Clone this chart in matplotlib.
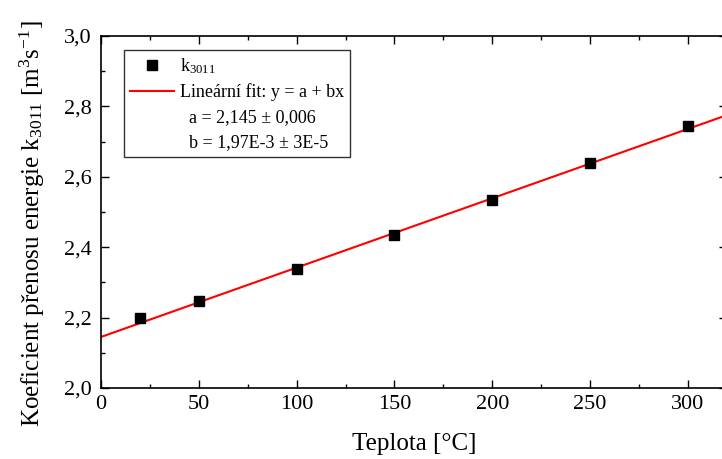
import matplotlib
matplotlib.use("Agg")
import matplotlib.pyplot as plt
from matplotlib.lines import Line2D
from matplotlib.ticker import MultipleLocator
import numpy as np

# measured points
temperature = [20, 50, 100, 150, 200, 250, 300]
k3011 = [2.198, 2.247, 2.337, 2.434, 2.534, 2.638, 2.745]

# linear fit parameters y = a + b x
fit_a = 2.145
fit_b = 1.97e-3
fit_x = [0, 320]

plt.rcParams["font.family"] = ["Liberation Serif", "DejaVu Serif"]
plt.rcParams["mathtext.fontset"] = "custom"
plt.rcParams["mathtext.rm"] = "Liberation Serif"
plt.rcParams["mathtext.it"] = "Liberation Serif"

fig = plt.figure(figsize=(7.22, 4.59), dpi=100)
ax = fig.add_axes([101 / 722, 71 / 459, 626 / 722, 352 / 459])

fx = np.array(fit_x, dtype=float)
ax.plot(fx, fit_a + fit_b * fx, color="red", linewidth=1.5, zorder=2)
ax.plot(temperature, k3011, linestyle="none", marker="s", markersize=7.5,
        color="black", zorder=3)

ax.set_xlim(0, 320)
ax.set_ylim(2.0, 3.0)
ax.xaxis.set_major_locator(MultipleLocator(50))
ax.xaxis.set_minor_locator(MultipleLocator(25))
ax.yaxis.set_major_locator(MultipleLocator(0.2))
ax.yaxis.set_minor_locator(MultipleLocator(0.1))
ax.yaxis.set_major_formatter(lambda v, pos: f"{v:.1f}".replace(".", ","))
ax.tick_params(which="both", direction="in", top=True, right=True, labelsize=16, width=1)
ax.tick_params(which="major", length=6)
ax.tick_params(which="minor", length=3)
ax.tick_params(axis="x", which="major", pad=5)
ax.tick_params(axis="y", which="major", pad=7)
for s in ax.spines.values():
    s.set_linewidth(1.2)

ax.set_xlabel("Teplota [°C]", fontsize=18, labelpad=14)
ax.set_ylabel(r"Koeficient přenosu energie k$_{3011}$ [m$^{3}$s$^{-1}$]", fontsize=18)
ax.yaxis.set_label_coords(-0.086, 0.468)

handles = [
    Line2D([0], [0], linestyle="none", marker="s", markersize=7.5, color="black"),
    Line2D([0], [0], color="red", linewidth=1.5),
    Line2D([0], [0], color="none"),
    Line2D([0], [0], color="none"),
]
labels = [
    r"k$_{3011}$",
    "Lineární fit: y = a + bx",
    "  a = 2,145 ± 0,006",
    "  b = 1,97E-3 ± 3E-5",
]
leg = ax.legend(handles, labels, loc="upper left", bbox_to_anchor=(23 / 626, 1 - 14 / 352),
                fontsize=13, frameon=True, fancybox=False, edgecolor="black",
                handlelength=2.4, handletextpad=0.35, labelspacing=0.42,
                borderpad=0.35, borderaxespad=0)
leg.get_frame().set_linewidth(1.0)

fig.savefig("out.png", dpi=100)
